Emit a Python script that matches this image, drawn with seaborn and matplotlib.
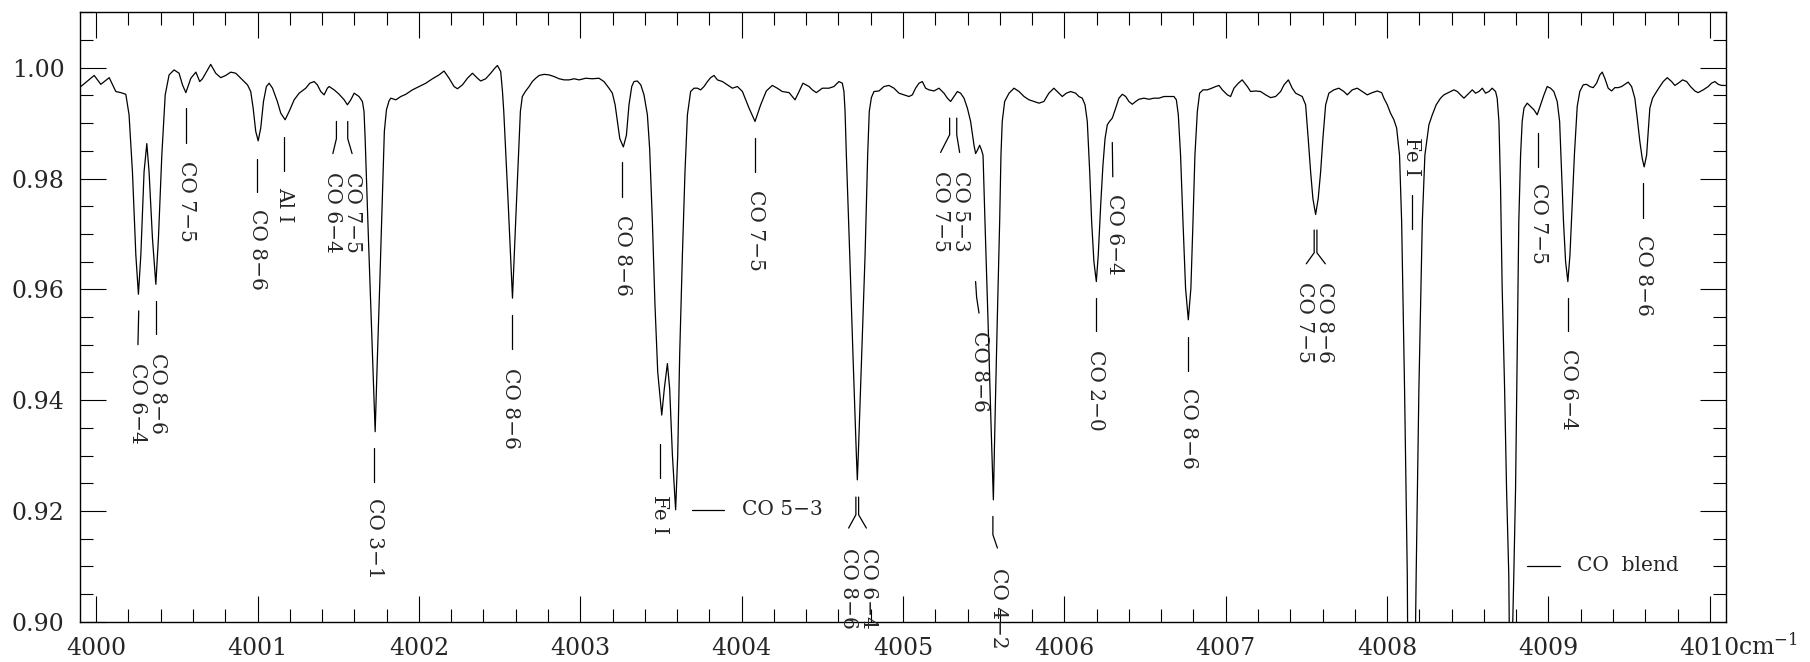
import matplotlib
matplotlib.use("Agg")
import matplotlib.pyplot as plt
import pandas as pd
import seaborn as sns
from matplotlib.ticker import MultipleLocator, FixedLocator, FixedFormatter

# ---------------- spectrum ----------------
wavenumber = [
    3999.905, 3999.988, 4000.029, 4000.081, 4000.122, 4000.153, 4000.184, 4000.204,
    4000.225, 4000.246, 4000.262, 4000.277, 4000.297, 4000.314, 4000.328, 4000.349,
    4000.370, 4000.386, 4000.407, 4000.428, 4000.452, 4000.483, 4000.514, 4000.535,
    4000.556, 4000.587, 4000.618, 4000.642, 4000.659, 4000.690, 4000.710, 4000.741,
    4000.772, 4000.803, 4000.834, 4000.865, 4000.907, 4000.938, 4000.958, 4000.973,
    4000.989, 4001.004, 4001.020, 4001.037, 4001.055, 4001.072, 4001.093, 4001.123,
    4001.144, 4001.171, 4001.196, 4001.227, 4001.258, 4001.299, 4001.324, 4001.351,
    4001.371, 4001.392, 4001.413, 4001.433,
    4001.444, 4001.475, 4001.506, 4001.537, 4001.557, 4001.578, 4001.599, 4001.629,
    4001.650, 4001.660, 4001.667, 4001.687, 4001.708, 4001.729, 4001.743, 4001.758,
    4001.772, 4001.786, 4001.799, 4001.815, 4001.826, 4001.857, 4001.888, 4001.919,
    4001.960, 4002.001, 4002.043, 4002.084, 4002.125, 4002.156, 4002.187, 4002.218,
    4002.239, 4002.270, 4002.301, 4002.332, 4002.363, 4002.383, 4002.414, 4002.445,
    4002.470, 4002.487, 4002.507, 4002.518, 4002.526, 4002.553, 4002.580, 4002.604,
    4002.629, 4002.641, 4002.662, 4002.683, 4002.703, 4002.724, 4002.745, 4002.776,
    4002.807, 4002.838, 4002.869, 4002.900, 4002.931, 4002.962,
    4002.993, 4003.034, 4003.075, 4003.116, 4003.147, 4003.178, 4003.199, 4003.216,
    4003.230, 4003.245, 4003.267, 4003.286, 4003.302, 4003.319, 4003.333, 4003.354,
    4003.375, 4003.395, 4003.416, 4003.430, 4003.447, 4003.463, 4003.480, 4003.505,
    4003.521, 4003.540, 4003.554, 4003.571, 4003.591, 4003.604, 4003.616, 4003.633,
    4003.649, 4003.664, 4003.684, 4003.705, 4003.726, 4003.746, 4003.767, 4003.788,
    4003.808, 4003.829, 4003.850, 4003.881, 4003.912, 4003.943, 4003.974, 4004.005,
    4004.046, 4004.083, 4004.118, 4004.153, 4004.190, 4004.221, 4004.252, 4004.294,
    4004.331, 4004.356, 4004.380, 4004.418, 4004.438, 4004.463, 4004.500,
    4004.541, 4004.572, 4004.603, 4004.624, 4004.634, 4004.641, 4004.649, 4004.670,
    4004.690, 4004.711, 4004.717, 4004.723, 4004.744, 4004.765, 4004.781, 4004.791,
    4004.804, 4004.820, 4004.851, 4004.882, 4004.913, 4004.944, 4004.975, 4005.006,
    4005.037, 4005.058, 4005.078, 4005.099, 4005.120, 4005.140, 4005.161, 4005.192,
    4005.223, 4005.254, 4005.275, 4005.295, 4005.316, 4005.337, 4005.357, 4005.378,
    4005.399, 4005.419, 4005.440, 4005.450, 4005.461, 4005.475, 4005.487, 4005.496,
    4005.508, 4005.527, 4005.545, 4005.560, 4005.570, 4005.584, 4005.599, 4005.607,
    4005.615, 4005.630, 4005.657, 4005.688, 4005.719, 4005.750, 4005.781, 4005.812,
    4005.843, 4005.873, 4005.904, 4005.935, 4005.966, 4005.987, 4006.012, 4006.039,
    4006.070,
    4006.090, 4006.111, 4006.128, 4006.142, 4006.157, 4006.169, 4006.183, 4006.198,
    4006.210, 4006.225, 4006.239, 4006.252, 4006.266, 4006.280, 4006.297, 4006.318,
    4006.338, 4006.359, 4006.380, 4006.400, 4006.421, 4006.442, 4006.462, 4006.493,
    4006.524, 4006.555, 4006.586, 4006.617, 4006.648, 4006.679, 4006.694, 4006.706,
    4006.720, 4006.735, 4006.751, 4006.768, 4006.784, 4006.797, 4006.809, 4006.824,
    4006.838, 4006.859, 4006.886, 4006.913, 4006.938, 4006.958, 4006.979, 4007.010,
    4007.030, 4007.051, 4007.078, 4007.102, 4007.134, 4007.154, 4007.185, 4007.216,
    4007.247, 4007.278, 4007.309, 4007.340, 4007.361, 4007.388, 4007.412, 4007.433,
    4007.454, 4007.474, 4007.495, 4007.511, 4007.526, 4007.540, 4007.557, 4007.573,
    4007.588, 4007.602, 4007.619, 4007.639,
    4007.670, 4007.701, 4007.732, 4007.753, 4007.784, 4007.815, 4007.846, 4007.877,
    4007.908, 4007.939, 4007.966, 4007.980, 4008.001, 4008.021, 4008.042, 4008.059,
    4008.077, 4008.090, 4008.108, 4008.125, 4008.127, 4008.151, 4008.176, 4008.180,
    4008.197, 4008.218, 4008.234, 4008.259, 4008.280, 4008.304, 4008.331, 4008.352,
    4008.373, 4008.393, 4008.414, 4008.435, 4008.455, 4008.476, 4008.497, 4008.528,
    4008.548, 4008.569, 4008.590, 4008.610, 4008.631, 4008.651, 4008.672, 4008.682,
    4008.693, 4008.703, 4008.713, 4008.728, 4008.740, 4008.754, 4008.757, 4008.767,
    4008.778, 4008.785, 4008.796, 4008.806, 4008.816, 4008.827, 4008.837, 4008.848,
    4008.868, 4008.889, 4008.910, 4008.930, 4008.951, 4008.972, 4008.992, 4009.013,
    4009.033, 4009.054, 4009.069, 4009.081, 4009.093, 4009.106, 4009.120, 4009.133,
    4009.147, 4009.161, 4009.178,
    4009.194, 4009.215, 4009.236, 4009.256, 4009.277, 4009.298, 4009.318, 4009.333,
    4009.349, 4009.370, 4009.391, 4009.411, 4009.432, 4009.453, 4009.473, 4009.494,
    4009.515, 4009.535, 4009.550, 4009.566, 4009.581, 4009.593, 4009.608, 4009.618,
    4009.628, 4009.645, 4009.670, 4009.690, 4009.711, 4009.736, 4009.763, 4009.783,
    4009.804, 4009.831, 4009.856, 4009.880, 4009.907, 4009.927, 4009.959, 4009.990,
    4010.010, 4010.031, 4010.052, 4010.072, 4010.097,
]

flux = [
    0.9966, 0.9986, 0.9970, 0.9982, 0.9957, 0.9955, 0.9952, 0.9915,
    0.9812, 0.9662, 0.9591, 0.9662, 0.9812, 0.9863, 0.9812, 0.9692,
    0.9609, 0.9692, 0.9842, 0.9951, 0.9987, 0.9996, 0.9990, 0.9969,
    0.9955, 0.9981, 0.9992, 0.9975, 0.9980, 0.9996, 1.0006, 0.9990,
    0.9982, 0.9986, 0.9992, 0.9990, 0.9978, 0.9969, 0.9957, 0.9927,
    0.9885, 0.9868, 0.9891, 0.9939, 0.9966, 0.9972, 0.9963, 0.9939,
    0.9918, 0.9906, 0.9921, 0.9942, 0.9954, 0.9963, 0.9972, 0.9975,
    0.9969, 0.9957, 0.9951, 0.9963,
    0.9966, 0.9960, 0.9952, 0.9942, 0.9933, 0.9942, 0.9954, 0.9948,
    0.9939, 0.9921, 0.9872, 0.9695, 0.9519, 0.9343, 0.9478, 0.9614,
    0.9749, 0.9885, 0.9924, 0.9940, 0.9945, 0.9942, 0.9948, 0.9952,
    0.9960, 0.9966, 0.9972, 0.9980, 0.9987, 0.9994, 0.9981, 0.9966,
    0.9962, 0.9969, 0.9981, 0.9990, 0.9981, 0.9976, 0.9980, 0.9990,
    0.9999, 1.0004, 0.9993, 0.9957, 0.9921, 0.9758, 0.9584, 0.9752,
    0.9921, 0.9948, 0.9958, 0.9966, 0.9975, 0.9981, 0.9986, 0.9988,
    0.9987, 0.9984, 0.9980, 0.9978, 0.9978, 0.9980,
    0.9978, 0.9981, 0.9980, 0.9981, 0.9975, 0.9963, 0.9954, 0.9933,
    0.9903, 0.9872, 0.9857, 0.9878, 0.9933, 0.9966, 0.9975, 0.9976,
    0.9969, 0.9951, 0.9915, 0.9854, 0.9722, 0.9572, 0.9451, 0.9373,
    0.9421, 0.9466, 0.9421, 0.9301, 0.9202, 0.9301, 0.9481, 0.9662,
    0.9812, 0.9915, 0.9957, 0.9963, 0.9963, 0.9960, 0.9966, 0.9975,
    0.9982, 0.9986, 0.9978, 0.9975, 0.9969, 0.9963, 0.9966, 0.9957,
    0.9927, 0.9903, 0.9933, 0.9958, 0.9968, 0.9963, 0.9957, 0.9955,
    0.9942, 0.9957, 0.9972, 0.9966, 0.9960, 0.9955, 0.9963,
    0.9963, 0.9966, 0.9975, 0.9972, 0.9957, 0.9921, 0.9842, 0.9662,
    0.9481, 0.9301, 0.9256, 0.9301, 0.9481, 0.9662, 0.9842, 0.9921,
    0.9946, 0.9957, 0.9958, 0.9966, 0.9968, 0.9963, 0.9954, 0.9951,
    0.9948, 0.9951, 0.9963, 0.9972, 0.9975, 0.9963, 0.9960, 0.9958,
    0.9963, 0.9954, 0.9945, 0.9939, 0.9948, 0.9957, 0.9954, 0.9945,
    0.9927, 0.9903, 0.9860, 0.9845, 0.9851, 0.9860, 0.9851, 0.9842,
    0.9722, 0.9542, 0.9361, 0.9220, 0.9361, 0.9542, 0.9722, 0.9842,
    0.9903, 0.9939, 0.9954, 0.9963, 0.9957, 0.9948, 0.9942, 0.9939,
    0.9936, 0.9939, 0.9954, 0.9963, 0.9954, 0.9948, 0.9954, 0.9957,
    0.9954,
    0.9948, 0.9945, 0.9933, 0.9903, 0.9812, 0.9722, 0.9650, 0.9614,
    0.9662, 0.9752, 0.9824, 0.9872, 0.9897, 0.9903, 0.9909, 0.9927,
    0.9945, 0.9952, 0.9948, 0.9939, 0.9934, 0.9939, 0.9943, 0.9945,
    0.9943, 0.9945, 0.9945, 0.9948, 0.9948, 0.9948, 0.9942, 0.9915,
    0.9842, 0.9722, 0.9602, 0.9545, 0.9602, 0.9722, 0.9842, 0.9921,
    0.9954, 0.9960, 0.9960, 0.9963, 0.9966, 0.9968, 0.9960, 0.9951,
    0.9948, 0.9963, 0.9972, 0.9978, 0.9966, 0.9957, 0.9958, 0.9957,
    0.9951, 0.9946, 0.9948, 0.9957, 0.9969, 0.9978, 0.9963, 0.9954,
    0.9951, 0.9948, 0.9933, 0.9872, 0.9812, 0.9764, 0.9735, 0.9764,
    0.9812, 0.9872, 0.9933, 0.9954,
    0.9960, 0.9963, 0.9957, 0.9951, 0.9960, 0.9963, 0.9957, 0.9951,
    0.9955, 0.9958, 0.9955, 0.9945, 0.9933, 0.9918, 0.9906, 0.9891,
    0.9842, 0.9722, 0.9421, 0.9084, 0.8990, 0.8850, 0.8990, 0.9084,
    0.9421, 0.9722, 0.9842, 0.9897, 0.9915, 0.9933, 0.9945, 0.9951,
    0.9954, 0.9957, 0.9960, 0.9957, 0.9951, 0.9945, 0.9951, 0.9960,
    0.9954, 0.9957, 0.9963, 0.9954, 0.9957, 0.9963, 0.9957, 0.9945,
    0.9903, 0.9782, 0.9602, 0.9421, 0.9241, 0.9084, 0.8990, 0.8850,
    0.8990, 0.9084, 0.9241, 0.9481, 0.9722, 0.9842, 0.9903, 0.9927,
    0.9936, 0.9930, 0.9924, 0.9915, 0.9933, 0.9951, 0.9966, 0.9963,
    0.9957, 0.9939, 0.9903, 0.9812, 0.9722, 0.9650, 0.9614, 0.9662,
    0.9752, 0.9845, 0.9930,
    0.9957, 0.9969, 0.9970, 0.9966, 0.9964, 0.9972, 0.9987, 0.9992,
    0.9981, 0.9963, 0.9958, 0.9964, 0.9964, 0.9966, 0.9970, 0.9974,
    0.9966, 0.9945, 0.9909, 0.9867, 0.9836, 0.9821, 0.9842, 0.9885,
    0.9927, 0.9945, 0.9957, 0.9966, 0.9975, 0.9982, 0.9975, 0.9968,
    0.9972, 0.9978, 0.9975, 0.9966, 0.9958, 0.9955, 0.9960, 0.9966,
    0.9972, 0.9975, 0.9970, 0.9968, 0.9968,
]

# ---------------- line identifications (vertical text) ----------------
vlabel_text = [
    "CO 6\u22124", "CO 8\u22126", "CO 7\u22125", "CO 8\u22126", "Al I",
    "CO 6\u22124", "CO 7\u22125", "CO 3\u22121", "CO 8\u22126", "CO 8\u22126",
    "CO 7\u22125", "Fe I", "CO 8\u22126", "CO 6\u22124", "CO 7\u22125",
    "CO 5\u22123", "CO 8\u22126", "CO 4\u22122", "CO 6\u22124", "CO 2\u22120",
    "CO 8\u22126", "CO 7\u22125", "CO 8\u22126", "Fe I", "CO 7\u22125",
    "CO 6\u22124", "CO 8\u22126",
]
vlabel_x = [
    4000.258, 4000.380, 4000.558, 4001.000, 4001.169,
    4001.463, 4001.589, 4001.722, 4002.570, 4003.261,
    4004.087, 4003.488, 4004.661, 4004.789, 4005.234,
    4005.357, 4005.471, 4005.592, 4006.313, 4006.194,
    4006.772, 4007.489, 4007.611, 4008.152, 4008.936,
    4009.126, 4009.587,
]
vlabel_y = [
    0.9467, 0.9485, 0.9832, 0.9745, 0.9785,
    0.9811, 0.9811, 0.9223, 0.9458, 0.9734,
    0.9779, 0.9228, 0.9133, 0.9133, 0.9814,
    0.9814, 0.9524, 0.9097, 0.9772, 0.9491,
    0.9421, 0.9613, 0.9613, 0.9875, 0.9791,
    0.9492, 0.9698,
]
marker_x = [
    [4000.264, 4000.259], [4000.374, 4000.374], [4000.556, 4000.556],
    [4000.999, 4000.999], [4001.165, 4001.165],
    [4001.489, 4001.489, 4001.467], [4001.559, 4001.559, 4001.586],
    [4001.722, 4001.722], [4002.576, 4002.576], [4003.261, 4003.261],
    [4004.083, 4004.083], [4003.492, 4003.492],
    [4004.708, 4004.708, 4004.663], [4004.725, 4004.725, 4004.773],
    [4005.289, 4005.289, 4005.233], [4005.333, 4005.333, 4005.351],
    [4005.450, 4005.456, 4005.471], [4005.557, 4005.557, 4005.585],
    [4006.297, 4006.300], [4006.198, 4006.198], [4006.768, 4006.768],
    [4007.548, 4007.548, 4007.499], [4007.565, 4007.565, 4007.617],
    [4008.152, 4008.152], [4008.936, 4008.936], [4009.120, 4009.120],
    [4009.587, 4009.587],
]
marker_y = [
    [0.9561, 0.9500], [0.9579, 0.9519], [0.9927, 0.9864],
    [0.9836, 0.9776], [0.9875, 0.9814],
    [0.9903, 0.9872, 0.9845], [0.9903, 0.9872, 0.9845],
    [0.9313, 0.9253], [0.9554, 0.9492], [0.9829, 0.9767],
    [0.9873, 0.9811], [0.9320, 0.9259],
    [0.9225, 0.9193, 0.9169], [0.9225, 0.9193, 0.9169],
    [0.9909, 0.9879, 0.9847], [0.9909, 0.9879, 0.9847],
    [0.9614, 0.9586, 0.9557], [0.9190, 0.9157, 0.9133],
    [0.9865, 0.9803], [0.9584, 0.9524], [0.9513, 0.9453],
    [0.9707, 0.9666, 0.9646], [0.9707, 0.9666, 0.9646],
    [0.9770, 0.9709], [0.9883, 0.9821], [0.9584, 0.9524],
    [0.9791, 0.9729],
]

# ---------------- horizontal identifications ----------------
hlabel_text = ["CO 5\u22123", "CO  blend"]
hlabel_x = [4004.001, 4009.174]
hlabel_y = [0.9202, 0.9101]
hmarker_x0 = [4003.695, 4008.866]
hmarker_x1 = [4003.892, 4009.069]

# ---------------- axes ----------------
xtick_values = [4000, 4001, 4002, 4003, 4004, 4005, 4006, 4007, 4008, 4009, 4010]
xtick_labels = ["4000", "4001", "4002", "4003", "4004", "4005", "4006", "4007",
                "4008", "4009", "4010"]
ytick_values = [0.90, 0.92, 0.94, 0.96, 0.98, 1.00]
ytick_labels = ["0.90", "0.92", "0.94", "0.96", "0.98", "1.00"]
x_unit = "cm$^{-1}$"

sns.set_style("ticks")
plt.rcParams["font.family"] = ["DejaVu Serif"]
plt.rcParams["mathtext.fontset"] = "dejavuserif"

fig = plt.figure(figsize=(18.10, 6.62), dpi=100)
ax = fig.add_axes([80 / 1810, 1 - 621.7 / 662, (1726 - 80) / 1810, (621.7 - 12.3) / 662])

df = pd.DataFrame({"wavenumber": wavenumber, "flux": flux})
sns.lineplot(data=df, x="wavenumber", y="flux", ax=ax, color="black",
             linewidth=0.9, estimator=None, sort=False)

ax.set_xlim(3999.9, 4010.1)
ax.set_ylim(0.90, 1.01)
ax.set_xlabel("")
ax.set_ylabel("")

ax.xaxis.set_major_locator(FixedLocator(xtick_values))
ax.xaxis.set_major_formatter(FixedFormatter(xtick_labels))
ax.xaxis.set_minor_locator(MultipleLocator(0.2))
ax.yaxis.set_major_locator(FixedLocator(ytick_values))
ax.yaxis.set_major_formatter(FixedFormatter(ytick_labels))
ax.yaxis.set_minor_locator(MultipleLocator(0.005))

ax.tick_params(which="both", direction="in", top=True, right=True,
               bottom=True, left=True, color="black", width=0.8)
ax.tick_params(which="major", length=19, labelsize=17, pad=11)
ax.tick_params(which="minor", length=9.5)
for sp in ax.spines.values():
    sp.set_visible(True)
    sp.set_linewidth(1.0)
    sp.set_color("black")

# identification markers and labels
for mx, my in zip(marker_x, marker_y):
    ax.plot(mx, my, color="black", linewidth=0.9, clip_on=False)
for t, x, y in zip(vlabel_text, vlabel_x, vlabel_y):
    ax.text(x, y, t, rotation=270, ha="center", va="top", fontsize=14.5,
            clip_on=False)
for t, x, y, x0, x1 in zip(hlabel_text, hlabel_x, hlabel_y, hmarker_x0, hmarker_x1):
    ax.plot([x0, x1], [y, y], color="black", linewidth=0.9)
    ax.text(x, y, t, ha="left", va="center", fontsize=14.5)

fig.text(1738 / 1810, 1 - 655 / 662, x_unit, ha="left", va="baseline", fontsize=17)

fig.savefig("out.png", dpi=100)
